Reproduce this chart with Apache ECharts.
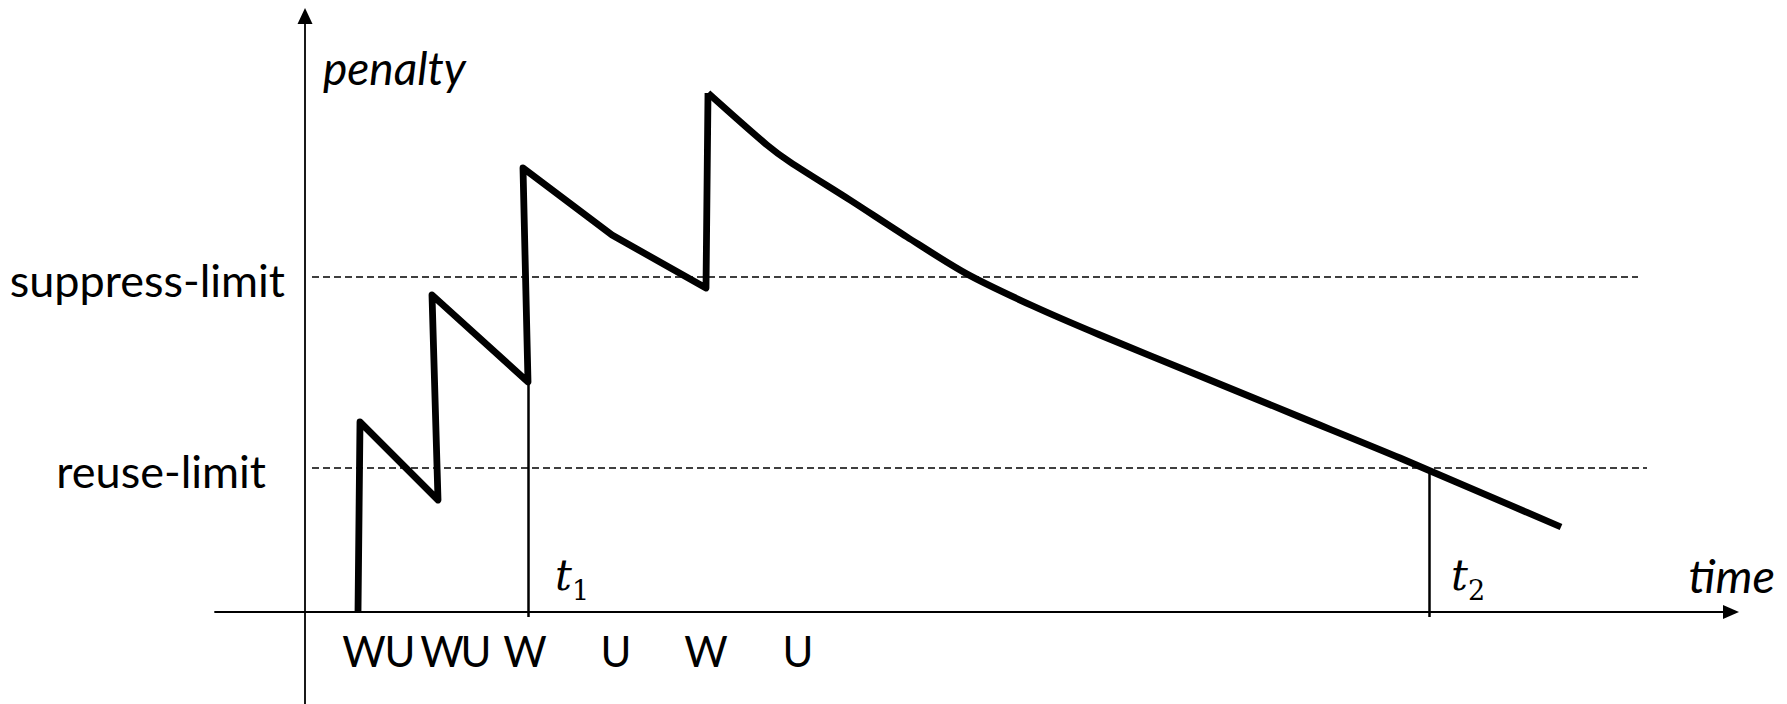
<!DOCTYPE html>
<html>
<head>
<meta charset="utf-8">
<script src="https://cdn.jsdelivr.net/npm/echarts@6/dist/echarts.min.js"></script>
<style>
  html, body { margin: 0; padding: 0; background: #fff; }
  #main { width: 1787px; height: 704px; }
</style>
</head>
<body>
<div id="main"></div>
<script>
// penalty build-up (straight saw teeth)
const sawTime = [2.65, 2.75, 6.65, 6.35, 11.15, 10.9, 15.35, 20.05, 20.15];
const sawValue = [0, 9.5, 5.6, 15.85, 11.5, 22.2, 18.85, 16.2, 25.95];

// decay after the last withdrawal
const decayTime = [20.15, 23.1, 24.25, 27.25, 30.1, 33.1, 36.4, 39.75, 44.75, 49.75, 54.75, 62.8];
const decayValue = [25.95, 23.35, 22.5, 20.6, 18.75, 16.9, 15.3, 13.85, 11.8, 9.75, 7.7, 4.25];

// limits
const limitNames = ['reuse-limit', 'suppress-limit'];
const limitValues = [7.2, 16.75];
const limitStart = [0.35, 0.35];
const limitEnd = [67.1, 66.65];

// W / U events under the time axis
const eventTimes = [2.95, 4.75, 6.85, 8.55, 11.0, 15.55, 20.05, 24.65];
const eventLabels = ['W', 'U', 'W', 'U', 'W', 'U', 'W', 'U'];
const eventLabelLevel = -1.95;

// t1 / t2 markers
const markerNames = ['1', '2'];
const markerTimes = [11.15, 56.2];
const markerTops = [11.5, 7.0];
const markerLabelTime = [12.5, 57.3];

const font = 'Lato, "Open Sans", sans-serif';
const mathFont = '"DejaVu Serif", "Liberation Serif", serif';

const chart = echarts.init(document.getElementById('main'), null, { renderer: 'svg' });

const lineStyle = { color: '#000', width: 6.8, join: 'round', cap: 'butt' };

const option = {
  animation: false,
  backgroundColor: '#fff',
  grid: { left: 215, right: 56, top: 16, bottom: 0, outerBoundsMode: 'none' },
  xAxis: {
    type: 'value',
    min: -4.5,
    max: 71.3,
    position: 'bottom',
    offset: -92,
    axisLine: {
      onZero: false,
      symbol: ['none', 'triangle'],
      symbolSize: [14, 16],
      lineStyle: { color: '#000', width: 1.8 }
    },
    axisTick: { show: false },
    splitLine: { show: false },
    axisLabel: { show: false },
    name: 'time',
    nameLocation: 'end',
    nameGap: 44,
    nameTextStyle: {
      align: 'right',
      verticalAlign: 'bottom',
      padding: [0, 0, 14, 0],
      fontSize: 47,
      fontStyle: 'italic',
      color: '#000',
      fontFamily: font
    }
  },
  yAxis: {
    type: 'value',
    min: -4.6,
    max: 29.8,
    position: 'left',
    offset: -90,
    axisLine: {
      onZero: false,
      symbol: ['none', 'triangle'],
      symbolSize: [15, 16],
      lineStyle: { color: '#000', width: 1.8 }
    },
    axisTick: { show: false },
    splitLine: { show: false },
    axisLabel: {
      customValues: limitValues,
      formatter: v => {
        const i = limitValues.indexOf(v);
        return i === 0 ? '{r|' + limitNames[i] + '}' : '{s|' + limitNames[i] + '}';
      },
      margin: 20,
      color: '#000',
      rich: {
        r: { fontSize: 45, fontFamily: font, color: '#000', padding: [6, 19, 0, 0] },
        s: { fontSize: 45, fontFamily: font, color: '#000', padding: [6, 0, 0, 0] }
      }
    },
    name: 'penalty',
    nameLocation: 'end',
    nameGap: -51,
    nameTextStyle: {
      align: 'left',
      verticalAlign: 'middle',
      padding: [0, 0, 0, 18],
      fontSize: 46,
      fontStyle: 'italic',
      color: '#000',
      fontFamily: font
    }
  },
  series: [
    {
      type: 'line',
      data: sawTime.map((t, i) => [t, sawValue[i]]),
      symbol: 'none',
      lineStyle: lineStyle,
      z: 5,
      markLine: {
        silent: true,
        symbol: ['none', 'none'],
        label: { show: false },
        data: [
          ...limitValues.map((v, i) => [
            { coord: [limitStart[i], v], lineStyle: { type: [7, 4], width: 1.5, color: '#000' } },
            { coord: [limitEnd[i], v] }
          ]),
          ...markerTimes.map((t, i) => [
            { coord: [t, -0.25], lineStyle: { type: 'solid', width: 2.5, color: '#000' } },
            { coord: [t, markerTops[i]] }
          ])
        ]
      }
    },
    {
      type: 'line',
      data: decayTime.map((t, i) => [t, decayValue[i]]),
      symbol: 'none',
      smooth: 0.3,
      lineStyle: lineStyle,
      z: 5
    },
    {
      // W / U event letters below the time axis
      type: 'scatter',
      symbolSize: 0,
      silent: true,
      itemStyle: { opacity: 1 },
      data: eventTimes.map((t, i) => ({ value: [t, eventLabelLevel], name: eventLabels[i] })),
      label: {
        show: true,
        position: 'inside',
        formatter: p => p.name,
        fontSize: 42,
        color: '#000',
        opacity: 1,
        textBorderWidth: 0,
        fontFamily: font
      }
    },
    {
      type: 'scatter',
      symbolSize: 0,
      silent: true,
      itemStyle: { opacity: 1 },
      data: markerLabelTime.map((t, i) => ({ value: [t, 0.4], name: markerNames[i] })),
      label: {
        show: true,
        position: [0, 0],
        align: 'left',
        verticalAlign: 'bottom',
        opacity: 1,
        formatter: p => '{t|t}{s|' + p.name + '}',
        rich: {
          t: { fontSize: 42, fontStyle: 'italic', fontFamily: mathFont, color: '#000', verticalAlign: 'bottom', padding: [0, 0, 8, 0] },
          s: { fontSize: 27, fontFamily: mathFont, color: '#000', verticalAlign: 'bottom' }
        }
      }
    }
  ]
};

chart.setOption(option);
</script>
</body>
</html>
